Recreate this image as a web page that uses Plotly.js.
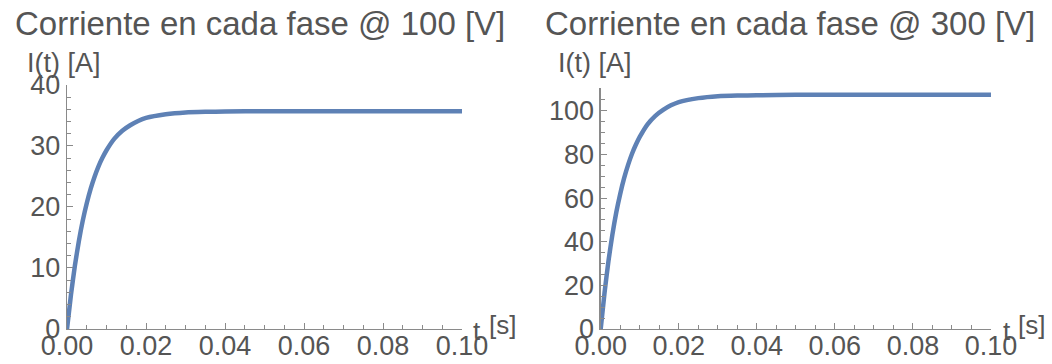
<!DOCTYPE html>
<html>
<head>
<meta charset="utf-8">
<script src="https://cdn.plot.ly/plotly-3.0.1.min.js"></script>
<style>html,body{margin:0;padding:0;background:#fff;}#chart{width:1052px;height:364px;}</style>
</head>
<body>
<div id="chart"></div>
<script>
// Time samples [s]
var time_s = [0, 0.001, 0.002, 0.003, 0.004, 0.005, 0.006, 0.007, 0.008, 0.009, 0.010, 0.012, 0.014, 0.016, 0.018, 0.020, 0.025, 0.030, 0.035, 0.040, 0.050, 0.060, 0.070, 0.080, 0.090, 0.100];
// Phase current at 100 V [A]
var current_100V = [0, 5.6, 10.4, 14.4, 17.8, 20.6, 23.0, 25.0, 26.7, 28.1, 29.3, 31.2, 32.5, 33.4, 34.1, 34.6, 35.2, 35.5, 35.6, 35.65, 35.7, 35.7, 35.7, 35.7, 35.7, 35.7];
// Phase current at 300 V [A]
var current_300V = [0, 16.8, 31.3, 43.3, 53.5, 61.9, 69.1, 75.1, 80.2, 84.4, 88.0, 93.8, 97.7, 100.4, 102.5, 104.0, 105.8, 106.7, 107.0, 107.1, 107.3, 107.3, 107.3, 107.3, 107.3, 107.3];
// Labels
var titles = ['Corriente en cada fase @ 100 [V]', 'Corriente en cada fase @ 300 [V]'];
var yLabel = 'I(t) [A]';
var xLabelVar = 't';
var xLabelUnit = '[s]';

var lineColor = '#5E81B5';
var axisColor = '#8a8a8a';
var textColor = '#555555';
var fontFam = 'Liberation Sans, Arial, sans-serif';

var traces = [
  {x: time_s, y: current_100V, xaxis: 'x', yaxis: 'y', mode: 'lines', line: {color: lineColor, width: 4.5, shape: 'spline', smoothing: 0.6}, hoverinfo: 'skip'},
  {x: time_s, y: current_300V, xaxis: 'x2', yaxis: 'y2', mode: 'lines', line: {color: lineColor, width: 4.5, shape: 'spline', smoothing: 0.6}, hoverinfo: 'skip'}
];

function xAx(domain, anchor) {
  return {
    domain: domain, anchor: anchor, range: [0, 0.1], dtick: 0.02, tick0: 0, tickformat: '.2f',
    showline: true, linecolor: axisColor, linewidth: 1.3, showgrid: false, zeroline: false,
    ticks: 'inside', ticklen: 6, tickwidth: 1, tickcolor: axisColor,
    minor: {dtick: 0.005, ticks: 'inside', ticklen: 4, tickcolor: axisColor, showgrid: false},
    ticklabelstandoff: -8,
    tickfont: {family: fontFam, size: 27, color: textColor}, fixedrange: true
  };
}
function yAx(domain, anchor, range, dtick, mdtick) {
  return {
    domain: domain, anchor: anchor, range: range, dtick: dtick, tick0: 0,
    showline: true, linecolor: axisColor, linewidth: 1.3, showgrid: false, zeroline: false,
    ticks: 'inside', ticklen: 6, tickwidth: 1, tickcolor: axisColor,
    minor: {dtick: mdtick, ticks: 'inside', ticklen: 4, tickcolor: axisColor, showgrid: false},
    tickfont: {family: fontFam, size: 27, color: textColor}, fixedrange: true
  };
}

var annFont = function (s) { return {family: fontFam, size: s, color: textColor}; };
var layout = {
  width: 1052, height: 364,
  margin: {l: 0, r: 0, t: 0, b: 0},
  paper_bgcolor: '#fff', plot_bgcolor: '#fff',
  showlegend: false,
  xaxis: xAx([0.0637, 0.4392], 'y'),
  yaxis: yAx([0.0962, 0.7665], 'x', [0, 40], 10, 2),
  xaxis2: xAx([0.5710, 0.9420], 'y2'),
  yaxis2: yAx([0.0962, 0.7574], 'x2', [0, 110.3], 20, 5),
  annotations: [
    {text: titles[0], xref: 'paper', yref: 'paper', x: 13/1052, y: 1 - 23/364, xanchor: 'left', yanchor: 'middle', showarrow: false, font: annFont(33)},
    {text: titles[1], xref: 'paper', yref: 'paper', x: 543/1052, y: 1 - 23/364, xanchor: 'left', yanchor: 'middle', showarrow: false, font: annFont(33)},
    {text: yLabel, xref: 'paper', yref: 'paper', x: 25/1052, y: 1 - 63/364, xanchor: 'left', yanchor: 'middle', showarrow: false, font: annFont(27)},
    {text: yLabel, xref: 'paper', yref: 'paper', x: 556/1052, y: 1 - 63/364, xanchor: 'left', yanchor: 'middle', showarrow: false, font: annFont(27)},
    {text: xLabelVar, xref: 'paper', yref: 'paper', x: 477/1052, y: 1 - 331/364, xanchor: 'center', yanchor: 'middle', showarrow: false, font: annFont(26)},
    {text: xLabelUnit, xref: 'paper', yref: 'paper', x: 502/1052, y: 1 - 325/364, xanchor: 'center', yanchor: 'middle', showarrow: false, font: annFont(26)},
    {text: xLabelVar, xref: 'paper', yref: 'paper', x: 1007/1052, y: 1 - 331/364, xanchor: 'center', yanchor: 'middle', showarrow: false, font: annFont(26)},
    {text: xLabelUnit, xref: 'paper', yref: 'paper', x: 1031/1052, y: 1 - 325/364, xanchor: 'center', yanchor: 'middle', showarrow: false, font: annFont(26)}
  ]
};

Plotly.newPlot('chart', traces, layout, {displayModeBar: false, staticPlot: true});
</script>
</body>
</html>
